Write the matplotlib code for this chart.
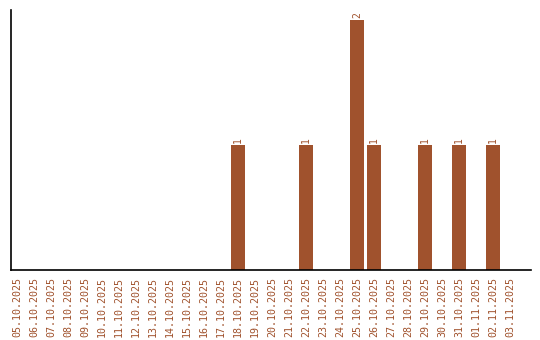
import matplotlib
matplotlib.use("Agg")
import matplotlib.pyplot as plt
import numpy as np

dates = ["05.10.2025", "06.10.2025", "07.10.2025", "08.10.2025", "09.10.2025",
         "10.10.2025", "11.10.2025", "12.10.2025", "13.10.2025", "14.10.2025",
         "15.10.2025", "16.10.2025", "17.10.2025", "18.10.2025", "19.10.2025",
         "20.10.2025", "21.10.2025", "22.10.2025", "23.10.2025", "24.10.2025",
         "25.10.2025", "26.10.2025", "27.10.2025", "28.10.2025", "29.10.2025",
         "30.10.2025", "31.10.2025", "01.11.2025", "02.11.2025", "03.11.2025"]
counts = [0, 0, 0, 0, 0, 0, 0, 0, 0, 0, 0, 0, 0, 1, 0,
          0, 0, 1, 0, 0, 2, 1, 0, 0, 1, 0, 1, 0, 1, 0]

color = "#A0522D"
plt.rcParams['font.family'] = ['DejaVu Sans Mono']

fig = plt.figure(figsize=(5.4, 3.4), dpi=100)
ax = fig.add_axes([11/540, 70/340, 520/540, 260/340])
x = np.arange(len(dates))
bars = ax.bar(x, counts, width=0.82, color=color)
for xi, v in zip(x, counts):
    if v > 0:
        ax.text(xi, v + 0.02, str(v), rotation=90, ha='center', va='bottom',
                fontsize=7, color=color)
ax.set_xlim(-0.353, 30.24)
ax.set_ylim(0, 2.08)
ax.set_xticks(x)
ax.set_xticklabels(dates, rotation=90, fontsize=7.2, color=color)
ax.tick_params(axis='x', length=0, pad=5)
ax.set_yticks([])
ax.spines['top'].set_visible(False)
ax.spines['right'].set_visible(False)
ax.spines['left'].set_linewidth(1.2)
ax.spines['bottom'].set_linewidth(1.2)
fig.savefig("out.png", dpi=100)
